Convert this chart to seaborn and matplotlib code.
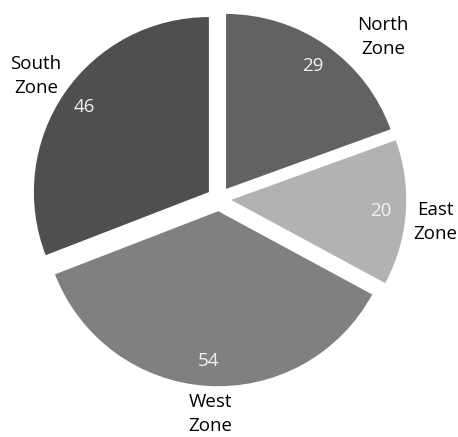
import matplotlib
matplotlib.use("Agg")
import matplotlib.pyplot as plt
import seaborn as sns
import numpy as np

zones = ["North\nZone", "East\nZone", "West\nZone", "South\nZone"]
values = [29, 20, 54, 46]
colors = ["#626262", "#b2b2b2", "#808080", "#4f4f4f"]

# layout: outer label centres in axes-fraction coordinates (x, y from bottom)
label_pos = [(383 / 458, 1 - 37 / 437), (435 / 458, 1 - 222 / 437),
             (210 / 458, 1 - 414 / 437), (36 / 458, 1 - 76 / 437)]

sns.set_theme(style="white")
plt.rcParams["font.family"] = ["Open Sans", "DejaVu Sans"]

fig = plt.figure(figsize=(4.58, 4.37), dpi=100)
ax = fig.add_axes([0, 0, 1, 1])

wedges, texts = ax.pie(
    values,
    colors=sns.color_palette(colors),
    startangle=90,
    counterclock=False,
    explode=[0.07] * len(values),
    radius=1.0,
    wedgeprops=dict(linewidth=0),
)
ax.set_xlim(-219 / 175, (458 - 219) / 175)
ax.set_ylim(-(437 - 199) / 175, 199 / 175)
ax.set_aspect("equal", adjustable="box")

for w, v in zip(wedges, values):
    ang = np.deg2rad((w.theta1 + w.theta2) / 2)
    cx, cy = w.center
    r = 0.86
    ax.text(cx + r * np.cos(ang), cy + r * np.sin(ang), str(v),
            ha="center", va="center", color="#f2f2f2", fontsize=13.5)

for lab, (x, y) in zip(zones, label_pos):
    ax.text(x, y, lab, transform=ax.transAxes, ha="center", va="center",
            fontsize=13.5, color="black", linespacing=1.38)

ax.axis("off")
fig.savefig("out.png", dpi=100)
